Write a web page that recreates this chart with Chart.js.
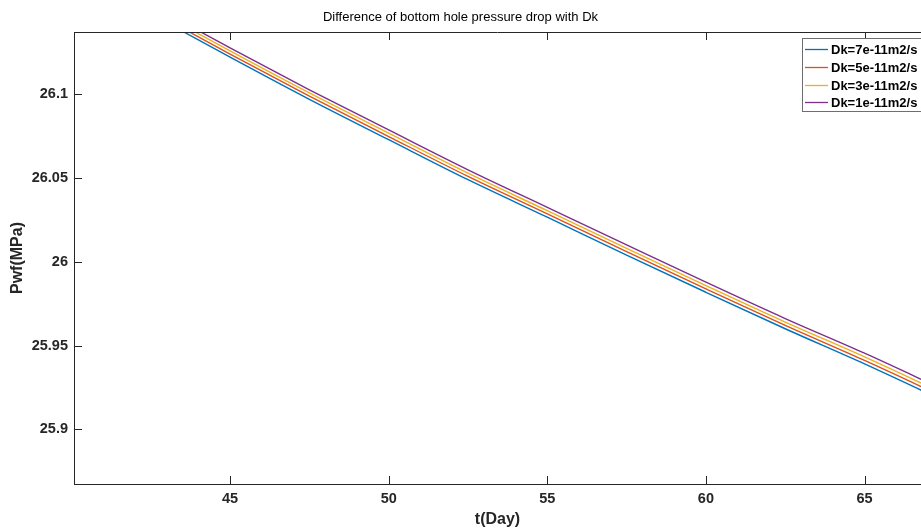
<!DOCTYPE html>
<html>
<head>
<meta charset="utf-8">
<script src="https://cdn.jsdelivr.net/npm/chart.js@4/dist/chart.umd.min.js"></script>
<style>
html,body{margin:0;padding:0;background:#fff;overflow:hidden}
#wrap{width:921px;height:529px}
</style>
</head>
<body>
<div id="wrap"><canvas id="c" width="921" height="529"></canvas></div>
<script>
// ---- data ----
const days = [42.5, 45, 47.5, 50, 52.5, 55, 57.5, 60, 62.5, 65, 67.5];
const pwfDk7 = [26.1480, 26.1222, 26.0970, 26.0729, 26.0490, 26.0266, 26.0040, 25.9818, 25.9600, 25.9390, 25.9170];
const pwfDk5 = [26.1498, 26.1240, 26.0989, 26.0748, 26.0510, 26.0286, 26.0060, 25.9838, 25.9620, 25.9411, 25.9192];
const pwfDk3 = [26.1517, 26.1259, 26.1008, 26.0768, 26.0529, 26.0305, 26.0080, 25.9858, 25.9640, 25.9432, 25.9213];
const pwfDk1 = [26.1535, 26.1277, 26.1027, 26.0787, 26.0549, 26.0325, 26.0101, 25.9878, 25.9661, 25.9454, 25.9235];
const seriesLabels = ['Dk=7e-11m2/s', 'Dk=5e-11m2/s', 'Dk=3e-11m2/s', 'Dk=1e-11m2/s'];
const seriesValues = [pwfDk7, pwfDk5, pwfDk3, pwfDk1];
const seriesColors = ['#0072BD', '#D95319', '#EDB120', '#7E2F8E'];
const xTickValues = [45, 50, 55, 60, 65];
const xTickLabels = ['45', '50', '55', '60', '65'];
const yTickValues = [25.9, 25.95, 26, 26.05, 26.1];
const yTickLabels = ['25.9', '25.95', '26', '26.05', '26.1'];
const xRange = [40.08, 66.78];
const yRange = [25.8673, 26.1372];

const FONT = '"Liberation Sans", Arial, Helvetica, sans-serif';
const AXIS = '#262626';

const framePlugin = {
  id: 'frame',
  afterDraw(chart) {
    const {ctx, chartArea: a, scales: {x, y}} = chart;
    ctx.save();
    ctx.strokeStyle = AXIS;
    ctx.lineWidth = 1;
    ctx.beginPath();
    ctx.moveTo(a.left, a.top + 0.5);
    ctx.lineTo(a.right, a.top + 0.5);
    x.ticks.forEach(t => {
      const px = Math.round(x.getPixelForValue(t.value)) + 0.5;
      ctx.moveTo(px, a.bottom);
      ctx.lineTo(px, a.bottom - 8);
      ctx.moveTo(px, a.top);
      ctx.lineTo(px, a.top + 8);
    });
    y.ticks.forEach(t => {
      const py = Math.round(y.getPixelForValue(t.value)) + 0.5;
      ctx.moveTo(a.left, py);
      ctx.lineTo(a.left + 8, py);
    });
    ctx.stroke();

    // legend box
    const bl = a.right - 119, bt = a.top + 6.5, bh = 73;
    ctx.fillStyle = '#fff';
    ctx.fillRect(bl, bt, 140, bh);
    ctx.strokeStyle = '#6e6e6e';
    ctx.strokeRect(bl + 0.5, bt, 140, bh);
    ctx.font = 'bold 13px ' + FONT;
    ctx.textBaseline = 'middle';
    ctx.textAlign = 'left';
    chart.data.datasets.forEach((ds, i) => {
      const cy = Math.round(bt + 10.5 + i * 17.8) + 0.5;
      ctx.strokeStyle = ds.borderColor;
      ctx.lineWidth = 1.3;
      ctx.beginPath();
      ctx.moveTo(bl + 3, cy);
      ctx.lineTo(bl + 26, cy);
      ctx.stroke();
      ctx.fillStyle = '#000';
      ctx.fillText(ds.label, bl + 29, cy + 0.5);
    });
    ctx.restore();
  }
};

new Chart(document.getElementById('c'), {
  type: 'line',
  data: {
    datasets: seriesLabels.map((lab, i) => ({
      label: lab,
      data: days.map((d, j) => ({x: d, y: seriesValues[i][j]})),
      borderColor: seriesColors[i],
      backgroundColor: seriesColors[i],
      borderWidth: 1.4,
      pointRadius: 0,
      fill: false,
      cubicInterpolationMode: 'monotone'
    }))
  },
  options: {
    responsive: false,
    animation: false,
    devicePixelRatio: 1,
    layout: {padding: 0},
    plugins: {
      legend: {display: false},
      tooltip: {enabled: false},
      title: {
        display: true,
        text: 'Difference of bottom hole pressure drop with Dk',
        color: '#000',
        font: {family: FONT, size: 13, weight: 'normal'},
        padding: {top: 9.2, bottom: 7.2}
      }
    },
    scales: {
      x: {
        type: 'linear',
        min: xRange[0],
        max: xRange[1],
        afterBuildTicks: s => { s.ticks = xTickValues.map(v => ({value: v})); },
        afterFit: s => { s.height = 45; },
        grid: {display: false, drawTicks: false, tickLength: 0},
        border: {display: true, color: AXIS, width: 1},
        ticks: {
          callback: (v, i) => xTickLabels[i],
          color: AXIS,
          font: {family: FONT, size: 14.5, weight: 'bold'},
          padding: 6,
          maxRotation: 0,
          autoSkip: false
        },
        title: {
          display: true,
          text: 't(Day)',
          color: AXIS,
          font: {family: FONT, size: 16, weight: 'bold'},
          padding: {top: 0, bottom: 0}
        }
      },
      y: {
        type: 'linear',
        min: yRange[0],
        max: yRange[1],
        afterBuildTicks: s => { s.ticks = yTickValues.map(v => ({value: v})); },
        afterFit: s => { s.width = 74; },
        grid: {display: false, drawTicks: false, tickLength: 0},
        border: {display: true, color: AXIS, width: 1},
        ticks: {
          callback: (v, i) => yTickLabels[i],
          color: AXIS,
          font: {family: FONT, size: 14.5, weight: 'bold'},
          padding: 6,
          autoSkip: false
        },
        title: {
          display: true,
          text: 'Pwf(MPa)',
          color: AXIS,
          font: {family: FONT, size: 16, weight: 'bold'},
          padding: {top: 8, bottom: 0}
        }
      }
    }
  },
  plugins: [framePlugin]
});
</script>
</body>
</html>
